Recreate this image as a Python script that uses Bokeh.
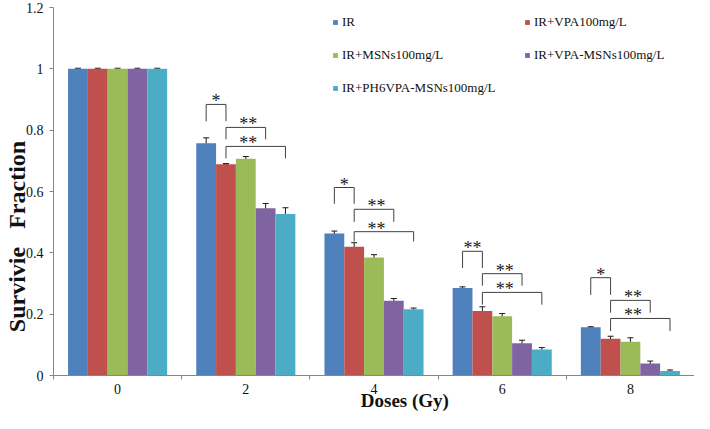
from bokeh.plotting import figure
from bokeh.models import (ColumnDataSource, Whisker, TeeHead, Legend, LegendItem,
                          FixedTicker, Range1d)
from bokeh.core.properties import value
from bokeh.embed import file_html
from bokeh.resources import INLINE

# ---------------- data ----------------
doses = ["0", "2", "4", "6", "8"]
series = ["IR", "IR+VPA100mg/L", "IR+MSNs100mg/L", "IR+VPA-MSNs100mg/L", "IR+PH6VPA-MSNs100mg/L"]
colors = ["#4F81BD", "#C0504D", "#9BBB59", "#8064A2", "#4BACC6"]

ir          = [1.0, 0.757, 0.463, 0.285, 0.157]
ir_vpa      = [1.0, 0.689, 0.420, 0.210, 0.120]
ir_msn      = [1.0, 0.707, 0.385, 0.193, 0.110]
ir_vpa_msn  = [1.0, 0.545, 0.244, 0.105, 0.039]
ir_ph6      = [1.0, 0.527, 0.216, 0.085, 0.015]

err_ir         = [0.002, 0.018, 0.008, 0.004, 0.002]
err_vpa        = [0.002, 0.002, 0.013, 0.014, 0.008]
err_msn        = [0.002, 0.007, 0.009, 0.009, 0.013]
err_vpa_msn    = [0.002, 0.016, 0.007, 0.010, 0.008]
err_ph6        = [0.002, 0.020, 0.004, 0.006, 0.003]

# significance brackets: group index, left bar, right bar, top level, leg bottom, label
sig_group  = [1, 1, 1, 2, 2, 2, 3, 3, 3, 4, 4, 4]
sig_left   = [0, 1, 1, 0, 1, 1, 0, 1, 1, 0, 1, 1]
sig_right  = [1, 3, 4, 1, 3, 4, 1, 3, 4, 1, 3, 4]
sig_top    = [0.884, 0.809, 0.747, 0.613, 0.542, 0.469, 0.405, 0.332, 0.271, 0.319, 0.245, 0.186]
sig_bottom = [0.829, 0.770, 0.708, 0.560, 0.501, 0.437, 0.351, 0.293, 0.231, 0.263, 0.205, 0.145]
sig_label  = ["*", "**", "**", "*", "**", "**", "**", "**", "**", "*", "**", "**"]

yticks = [0, 0.2, 0.4, 0.6, 0.8, 1.0, 1.2]
ytick_labels = ["0", "0.2", "0.4", "0.6", "0.8", "1", "1.2"]

x_title = "Doses (Gy)"
y_title = "Survivie  Fraction"

values = [ir, ir_vpa, ir_msn, ir_vpa_msn, ir_ph6]
errors = [err_ir, err_vpa, err_msn, err_vpa_msn, err_ph6]

# ---------------- figure ----------------
FONT = "Liberation Serif"
BAR_W = 0.1546
n_s = len(series)
NB = "\u00a0"

def bar_x(group, k):
    return group + 0.5 + (k - (n_s - 1) / 2) * BAR_W

p = figure(width=694, height=413, x_range=Range1d(0, len(doses)), y_range=Range1d(0, 1.2),
           output_backend="svg", toolbar_location=None,
           min_border_left=0, min_border_right=0, min_border_top=7, min_border_bottom=0)
p.outline_line_color = None
p.xgrid.visible = False
p.ygrid.visible = False
p.background_fill_color = "white"
p.border_fill_color = "white"

renderers = []
wb, wu, wl = [], [], []
for k in range(n_s):
    xs = [bar_x(g, k) for g in range(len(doses))]
    src = ColumnDataSource(dict(x=xs, top=values[k]))
    r = p.vbar(x="x", top="top", width=BAR_W, bottom=0, source=src,
               fill_color=colors[k], line_color=None)
    renderers.append(r)
    for g in range(len(doses)):
        wb.append(bar_x(g, k))
        wu.append(values[k][g] + errors[k][g])
        wl.append(values[k][g] - errors[k][g])

wsrc = ColumnDataSource(dict(base=wb, upper=wu, lower=wl))
whisker = Whisker(source=wsrc, base="base", upper="upper", lower="lower",
                  line_color="#1a1a1a", line_width=1,
                  upper_head=TeeHead(size=6, line_color="#1a1a1a", line_width=1),
                  lower_head=TeeHead(size=6, line_color="#1a1a1a", line_width=1))
p.add_layout(whisker)

# significance brackets
bxs, bys, tx, ty = [], [], [], []
for g, l, r_, top, bot in zip(sig_group, sig_left, sig_right, sig_top, sig_bottom):
    x0, x1 = bar_x(g, l), bar_x(g, r_)
    bxs.append([x0, x0, x1, x1])
    bys.append([bot, top, top, bot])
    if l == 1:
        tx.append((bar_x(g, 1) + bar_x(g, 3)) / 2 + 0.02)
    else:
        tx.append((x0 + x1) / 2)
    ty.append(top)
p.multi_line(xs=bxs, ys=bys, line_color="#404040", line_width=1)
p.text(x=tx, y=ty, text=sig_label, text_font=value(FONT), text_font_size="18px",
       text_align="center", text_baseline="alphabetic", y_offset=-3, text_color="#1a1a1a")

# axes
AX = "#868686"
p.xaxis.ticker = FixedTicker(ticks=[g + 0.5 for g in range(len(doses))],
                             minor_ticks=list(range(len(doses) + 1)))
p.xaxis.major_label_overrides = {g + 0.5: d for g, d in enumerate(doses)}
p.xaxis.major_tick_out = 0
p.xaxis.major_tick_in = 0
p.xaxis.minor_tick_out = 4
p.xaxis.minor_tick_in = 0
p.xaxis.minor_tick_line_color = AX
p.xaxis.axis_line_color = AX
p.xaxis.major_label_standoff = 4
p.xaxis.axis_label = NB * 13 + x_title
p.xaxis.axis_label_standoff = -7
p.xaxis.axis_label_text_font_size = "19px"

p.yaxis.ticker = FixedTicker(ticks=yticks)
p.yaxis.major_label_overrides = dict(zip(yticks, ytick_labels))
p.yaxis.major_tick_out = 4
p.yaxis.major_tick_in = 0
p.yaxis.minor_tick_out = 0
p.yaxis.minor_tick_in = 0
p.yaxis.major_tick_line_color = AX
p.yaxis.axis_line_color = AX
p.yaxis.major_label_standoff = 6
p.yaxis.axis_label = y_title.replace("  ", NB * 3) + NB * 15
p.yaxis.axis_label_standoff = -7
p.yaxis.axis_label_text_font_size = "24px"

for ax in (p.xaxis, p.yaxis):
    ax.major_label_text_font = FONT
    ax.major_label_text_font_size = "14px"
    ax.major_label_text_color = "#111111"
    ax.axis_label_text_font = FONT
    ax.axis_label_text_font_style = "bold"
    ax.axis_label_text_color = "#111111"

legend = Legend(items=[LegendItem(label=s, renderers=[r]) for s, r in zip(series, renderers)],
                orientation="horizontal", ncols=2, location=(279, 276),
                glyph_width=6, glyph_height=6, label_standoff=4, label_width=172,
                label_height=23, spacing=10, padding=0, margin=0,
                border_line_color=None, background_fill_alpha=0,
                label_text_font=FONT, label_text_font_size="13px", label_text_color="#111111")
p.add_layout(legend)

open("out.html", "w").write(file_html(p, INLINE))
